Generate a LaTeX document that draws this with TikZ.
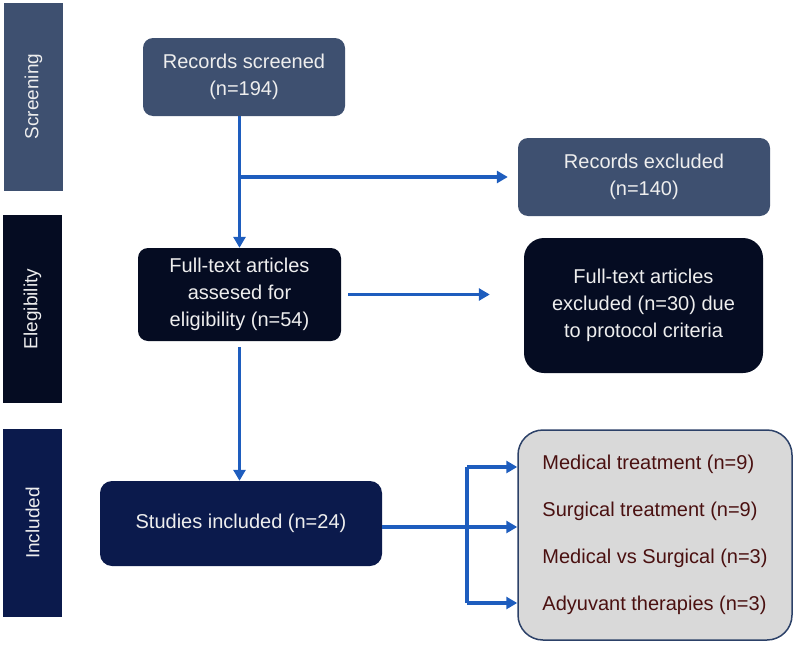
\documentclass[tikz,border=0pt]{standalone}
\usepackage{fontspec}
\setmainfont{Liberation Sans}
\usetikzlibrary{arrows.meta,calc}
\definecolor{slate}{HTML}{3E5070}
\definecolor{darkbox}{HTML}{050C22}
\definecolor{navybox}{HTML}{0B1A4C}
\definecolor{arrowblue}{HTML}{1E5DBE}
\definecolor{greyfill}{HTML}{D9D9D9}
\definecolor{greyborder}{HTML}{2C4168}
\definecolor{txtred}{HTML}{4A1010}
\definecolor{txtw}{HTML}{EEEEEE}
\begin{document}
\begin{tikzpicture}[x=1pt,y=-1pt,
  box/.style={rectangle, rounded corners=10pt, text=txtw, align=center,
    font=\fontsize{20}{27}\selectfont, inner sep=0pt},
  side/.style={rectangle, text=txtw, font=\fontsize{19}{23}\selectfont,
    minimum width=188pt, minimum height=59pt, inner sep=0pt, rotate=90},
  conn/.style={draw=arrowblue, line width=3.5pt},
  arr/.style={conn, -{Triangle[length=11pt,width=12pt]}}]
\useasboundingbox (0,0) rectangle (796,648);

% stage bars
\node[side, fill=slate] (ls) at (33.5,96.5) {Screening};
\node[side, fill=darkbox] (le) at (32.5,309) {Elegibility};
\node[side, fill=navybox] (li) at (32.5,523) {Included};

% boxes
\node[box, fill=slate, minimum width=202pt, minimum height=78pt] (rs) at (244,77) {Records screened\\(n=194)};
\node[box, fill=slate, minimum width=252pt, minimum height=78pt] (re) at (644,177) {Records excluded\\(n=140)};
\node[box, fill=darkbox, minimum width=203pt, minimum height=93pt] (fa) at (239.5,294.5) {Full-text articles\\assesed for\\eligibility (n=54)};
\node[box, fill=darkbox, rounded corners=20pt, minimum width=239pt, minimum height=135pt] (fe) at (643.5,305.5) {Full-text articles\\excluded (n=30) due\\to protocol criteria};
\node[box, fill=navybox, rounded corners=12pt, minimum width=282pt, minimum height=85pt] (st) at (241,523.5) {Studies included (n=24)};
\node[box, fill=greyfill, draw=greyborder, line width=1.5pt, rounded corners=25pt, text=txtred, align=left,
  font=\fontsize{20}{47}\selectfont, minimum width=274pt, minimum height=210pt] (gb) at (655,535)
  {Medical treatment (n=9)\\Surgical treatment (n=9)\\Medical vs Surgical (n=3)\\Adyuvant therapies (n=3)};

% connectors
\coordinate (j1) at (fa.north |- re.west);
\coordinate (fet) at (fa.east -| fe.west);
\coordinate (jt) at (467,467);
\coordinate (jb) at (467,603);

\draw[arr] (rs.south -| fa.north) -- (fa.north);
\draw[arr] (j1) -- ([xshift=-10pt]re.west);
\draw[arr] ([xshift=7pt]fa.east) -- ([xshift=-34pt]fet);
\draw[arr] ([yshift=-6pt]fa.south) -- (fa.south |- st.north);
\draw[arr] ([yshift=-3.5pt]st.east) -- ([yshift=-3.5pt]st.east -| gb.west);
\draw[conn] (jt) -- (jb);
\draw[arr] (jt) -- (jt -| gb.west);
\draw[arr] (jb) -- (jb -| gb.west);
\end{tikzpicture}
\end{document}
